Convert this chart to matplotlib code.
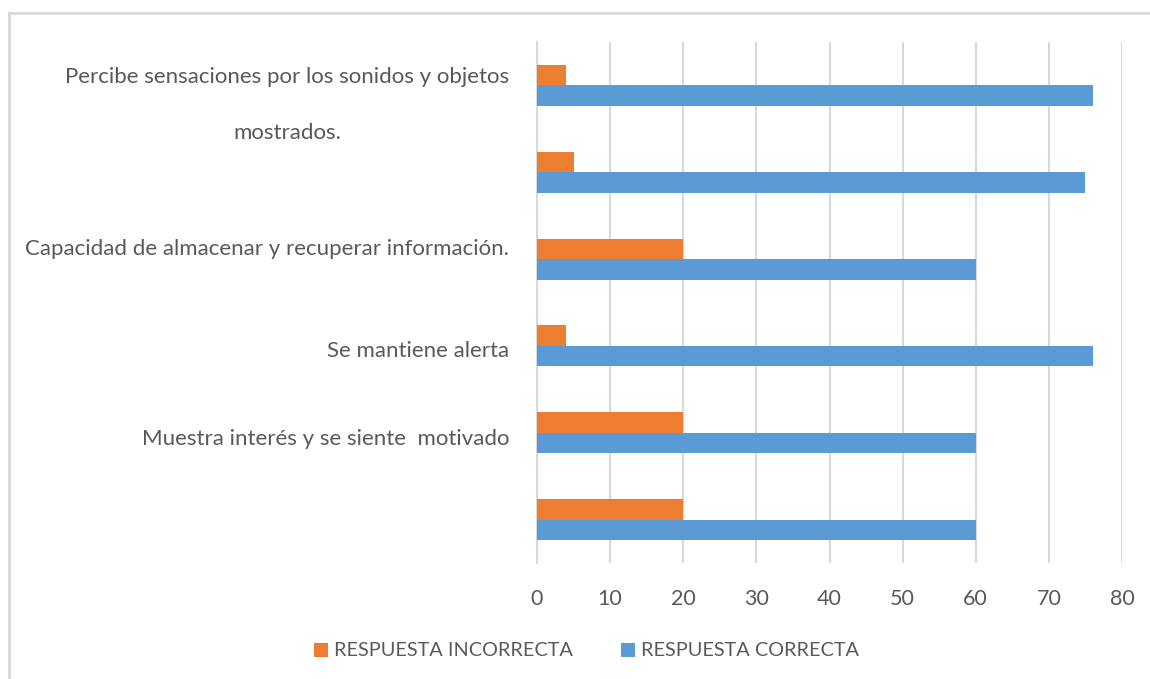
import matplotlib
matplotlib.use("Agg")
import matplotlib.pyplot as plt
import matplotlib.transforms as mtransforms
from matplotlib.lines import Line2D
from matplotlib.patches import Patch
import numpy as np

# ---- data ----
categories = [
    "",
    "Muestra interés y se siente  motivado",
    "Se mantiene alerta",
    "Capacidad de almacenar y recuperar información.",
    "",
    "Percibe sensaciones por los sonidos y objetos\n\nmostrados.",
]
incorrecta = [20, 20, 4, 20, 5, 4]
correcta = [60, 60, 76, 60, 75, 76]
series_names = ["RESPUESTA INCORRECTA", "RESPUESTA CORRECTA"]
xticks = [0, 10, 20, 30, 40, 50, 60, 70, 80]

# ---- style ----
FONT = "Lato"
TXT = "#595959"
GRID = "#d9d9d9"
ORANGE = "#ED7D31"
BLUE = "#5B9BD5"

plt.rcParams["font.family"] = [FONT, "DejaVu Sans"]

W, H = 1150, 679
fig = plt.figure(figsize=(W / 100, H / 100), dpi=100)
ax = fig.add_axes([537 / W, 1 - 563 / H, (1122 - 537) / W, (563 - 42) / H])

y = np.arange(len(categories))
bh = 0.236
ax.barh(y + bh / 2, incorrecta, height=bh, color=ORANGE, label=series_names[0], zorder=3)
ax.barh(y - bh / 2, correcta, height=bh, color=BLUE, label=series_names[1], zorder=3)

ax.set_xlim(0, 80)
ax.set_ylim(-0.5, len(categories) - 0.5)
ax.set_xticks(xticks)
ax.set_xticklabels([str(v) for v in xticks])
ax.xaxis.grid(True, color=GRID, linewidth=1.5, zorder=0)
ax.set_axisbelow(True)
for s in ["top", "right", "bottom"]:
    ax.spines[s].set_visible(False)
ax.spines["left"].set_color(GRID)
ax.spines["left"].set_linewidth(1.5)
ax.tick_params(axis="x", length=0, pad=19, labelsize=15.5, labelcolor=TXT)
ax.tick_params(axis="y", length=0, pad=20, labelsize=16, labelcolor=TXT)

ax.set_yticks(y)
ax.set_yticklabels(categories, linespacing=1.5, multialignment="center")
# per-label vertical nudges (points) to match the reference placement
nudges = [0, -3, -2, 9, 0, -10]
for lab, dy in zip(ax.get_yticklabels(), nudges):
    lab.set_transform(lab.get_transform() + mtransforms.ScaledTranslation(0, dy / 72, fig.dpi_scale_trans))

# legend
handles = [Patch(facecolor=ORANGE), Patch(facecolor=BLUE)]
leg = fig.legend(handles, series_names, loc="center", bbox_to_anchor=(586.5 / W, 1 - 651 / H),
                 ncol=2, frameon=False, fontsize=14.3, labelcolor=TXT,
                 handlelength=0.7, handleheight=0.7, handletextpad=0.3, columnspacing=2.4)

# outer chart border (top and left visible)
fig.add_artist(Line2D([9 / W, 1.0], [1 - 13 / H, 1 - 13 / H], color=GRID, linewidth=2, transform=fig.transFigure))
fig.add_artist(Line2D([9 / W, 9 / W], [1 - 13 / H, 0.0], color=GRID, linewidth=2, transform=fig.transFigure))

fig.savefig("out.png", dpi=100, facecolor="white")
